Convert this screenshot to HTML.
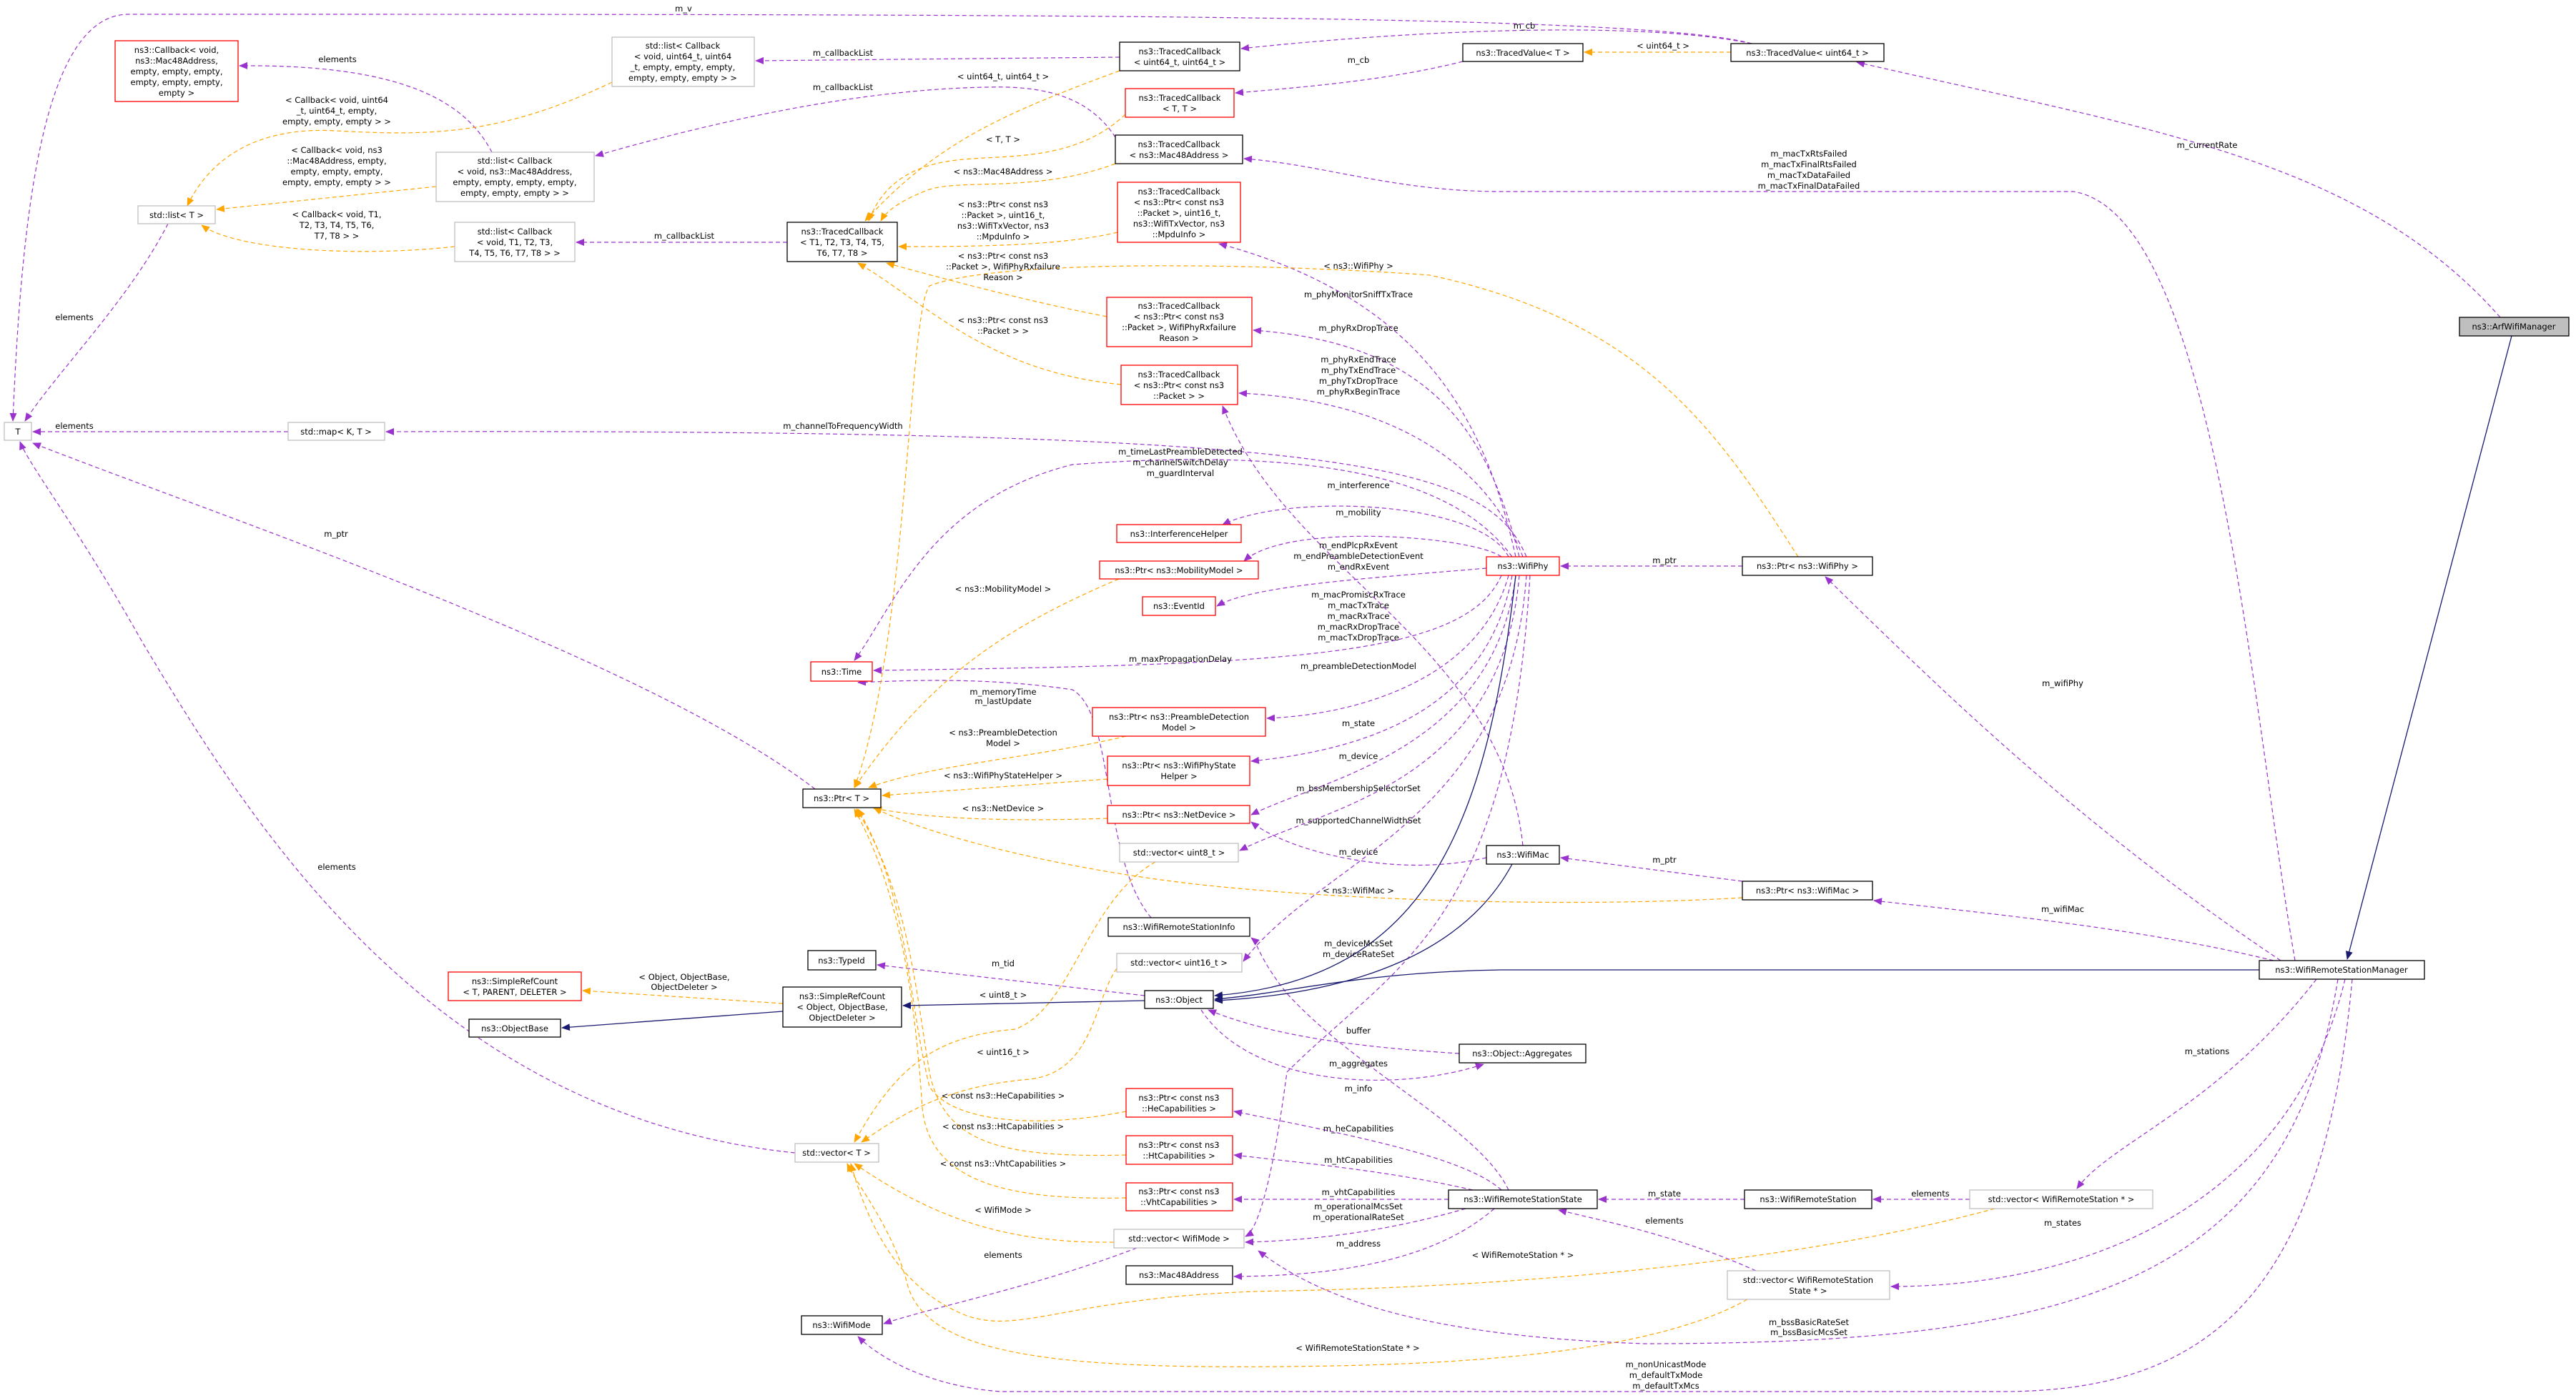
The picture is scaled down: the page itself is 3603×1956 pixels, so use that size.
<!DOCTYPE html>
<html><head><meta charset="utf-8"><style>
html,body{margin:0;padding:0;background:#fff;}
svg{display:block;}
text{font-family:"DejaVu Sans","Liberation Sans",sans-serif;font-size:11.5px;fill:#000;}
.p{fill:none;stroke:#9a32cd;stroke-width:1.2;stroke-dasharray:6,4;}
.o{fill:none;stroke:#ffa500;stroke-width:1.2;stroke-dasharray:6,4;}
.n{fill:none;stroke:#191970;stroke-width:1.3;}
.bk{fill:#fff;stroke:#000;stroke-width:1.3;}
.rd{fill:#fff;stroke:#ff0000;stroke-width:1.3;}
.gy{fill:#fff;stroke:#bfbfbf;stroke-width:1.3;}
</style></head><body>
<svg width="3603" height="1956" viewBox="0 0 3603 1956" xmlns="http://www.w3.org/2000/svg">
<defs>
<marker id="mp" markerWidth="12" markerHeight="10" refX="11" refY="5" orient="auto" markerUnits="userSpaceOnUse"><path d="M0,0 L12,5 L0,10 z" fill="#9a32cd"/></marker>
<marker id="mo" markerWidth="12" markerHeight="10" refX="11" refY="5" orient="auto" markerUnits="userSpaceOnUse"><path d="M0,0 L12,5 L0,10 z" fill="#ffa500"/></marker>
<marker id="mn" markerWidth="12" markerHeight="10" refX="11" refY="5" orient="auto" markerUnits="userSpaceOnUse"><path d="M0,0 L12,5 L0,10 z" fill="#191970"/></marker>
</defs>

<g marker-end="url(#mp)">
<path class="p" d="M1140,1104 C900,920 300,720 46,620"/>
<path class="p" d="M235,313 C180,420 80,520 35,589"/>
<path class="p" d="M403,604 L46,604"/>
<path class="p" d="M1112,1613 C600,1560 350,1150 200,900 C110,740 40,650 28,618"/>
<path class="p" d="M2450,61 C2300,20 1500,20 180,20 C60,20 30,300 18,589"/>
<path class="p" d="M688,213 C650,140 560,90 335,92"/>
<path class="p" d="M1566,80 L1057,85"/>
<path class="p" d="M1560,192 C1520,130 1450,120 1380,122 C1200,125 1000,170 833,218"/>
<path class="p" d="M1101,339 L806,339"/>
<path class="p" d="M2450,61 C2300,30 2000,40 1736,68"/>
<path class="p" d="M2046,86 C1950,110 1850,120 1728,130"/>
<path class="p" d="M3497,444 C3300,220 3000,180 2597,87"/>
<path class="p" d="M3210,1344 C3150,1000 3100,300 2900,268 L2100,268 C1950,268 1850,230 1740,222"/>
<path class="p" d="M1601,1393 L1227,1350"/>
<path class="p" d="M2041,1474 C1900,1465 1780,1450 1690,1413"/>
<path class="p" d="M1680,1413 C1750,1520 1950,1530 2075,1489"/>
<path class="p" d="M2437,792 L2183,792"/>
<path class="p" d="M3190,1344 C2900,1150 2700,950 2553,807"/>
<path class="p" d="M2437,1233 L2183,1200"/>
<path class="p" d="M3180,1344 C3000,1300 2800,1280 2621,1260"/>
<path class="p" d="M2120,779 C2080,600 2000,420 1705,341"/>
<path class="p" d="M2125,779 C2080,600 2000,480 1753,462"/>
<path class="p" d="M2130,779 C2080,650 1950,560 1733,550"/>
<path class="p" d="M2135,779 C2080,650 1900,600 540,604"/>
<path class="p" d="M2115,779 C2050,690 1900,620 1500,650 C1300,700 1250,850 1195,924"/>
<path class="p" d="M2110,779 C2070,700 1800,690 1710,734"/>
<path class="p" d="M2100,779 C2060,750 1800,730 1740,785"/>
<path class="p" d="M2079,795 C1900,810 1750,820 1702,848"/>
<path class="p" d="M2100,805 C2050,920 1800,930 1222,938"/>
<path class="p" d="M2110,805 C2070,950 1900,1000 1772,1005"/>
<path class="p" d="M2115,805 C2080,1000 1900,1050 1750,1065"/>
<path class="p" d="M2120,805 C2090,1050 1850,1090 1750,1140"/>
<path class="p" d="M2125,805 C2100,1100 1850,1130 1734,1190"/>
<path class="p" d="M2135,805 C2110,1150 1850,1200 1739,1345"/>
<path class="p" d="M2140,805 C2110,1300 1950,1350 1800,1500 C1780,1650 1760,1720 1742,1730"/>
<path class="p" d="M2130,1183 C2100,900 1800,800 1710,568"/>
<path class="p" d="M2079,1200 C1950,1230 1800,1190 1750,1150"/>
<path class="p" d="M1610,1284 C1540,1200 1560,1000 1500,965 C1400,950 1300,950 1200,955"/>
<path class="p" d="M2110,1665 C2070,1580 1900,1500 1800,1390 C1760,1340 1760,1320 1750,1312"/>
<path class="p" d="M2100,1665 C2050,1620 1900,1590 1726,1555"/>
<path class="p" d="M2060,1665 C1950,1640 1850,1630 1726,1616"/>
<path class="p" d="M2026,1678 L1726,1678"/>
<path class="p" d="M2050,1691 C1950,1720 1850,1735 1742,1738"/>
<path class="p" d="M2090,1691 C2000,1770 1850,1785 1726,1786"/>
<path class="p" d="M1590,1746 C1450,1800 1300,1830 1236,1852"/>
<path class="p" d="M2440,1678 L2236,1678"/>
<path class="p" d="M2755,1678 L2620,1678"/>
<path class="p" d="M2456,1778 C2350,1730 2250,1710 2180,1693"/>
<path class="p" d="M3240,1370 C3100,1550 2950,1600 2905,1663"/>
<path class="p" d="M3280,1370 C3200,1700 2900,1800 2645,1800"/>
<path class="p" d="M3270,1370 C3200,1800 2900,1880 2300,1880 C2000,1870 1850,1820 1760,1750"/>
<path class="p" d="M3290,1370 C3250,1800 3100,1947 2800,1947 L1400,1947 C1300,1940 1230,1900 1200,1870"/>
</g>

<g marker-end="url(#mo)">
<path class="o" d="M856,115 C700,190 600,190 470,183 C330,175 280,250 262,288"/>
<path class="o" d="M610,261 L303,293"/>
<path class="o" d="M636,345 C500,360 330,350 282,315"/>
<path class="o" d="M1566,99 C1400,160 1310,200 1210,309"/>
<path class="o" d="M1574,160 C1500,230 1400,215 1330,225 C1260,235 1230,270 1215,309"/>
<path class="o" d="M1560,229 C1450,270 1350,250 1300,265 C1260,280 1240,295 1232,309"/>
<path class="o" d="M1563,325 C1480,345 1350,345 1257,345"/>
<path class="o" d="M1548,443 C1430,420 1320,390 1240,368"/>
<path class="o" d="M1568,538 C1380,520 1290,420 1200,368"/>
<path class="o" d="M2421,73 L2216,73"/>
<path class="o" d="M2515,779 C2400,600 2300,450 2000,385 C1800,370 1400,360 1300,400 C1270,440 1270,900 1195,1102"/>
<path class="o" d="M2437,1256 C2200,1270 1900,1260 1700,1240 C1500,1220 1300,1170 1222,1130"/>
<path class="o" d="M1565,810 C1400,880 1300,950 1195,1102"/>
<path class="o" d="M1575,1030 C1450,1060 1300,1070 1215,1102"/>
<path class="o" d="M1549,1090 L1234,1113"/>
<path class="o" d="M1549,1145 C1400,1150 1300,1145 1222,1131"/>
<path class="o" d="M1616,1206 C1520,1260 1500,1410 1420,1440 C1300,1450 1250,1500 1195,1598"/>
<path class="o" d="M1562,1355 C1530,1400 1530,1500 1440,1510 C1320,1520 1260,1560 1205,1598"/>
<path class="o" d="M1558,1738 C1400,1740 1300,1700 1195,1628"/>
<path class="o" d="M2790,1691 C2500,1770 2100,1800 1800,1806 C1500,1810 1430,1870 1350,1840 C1250,1800 1210,1700 1190,1628"/>
<path class="o" d="M2444,1818 C2300,1900 2000,1910 1800,1912 C1500,1915 1300,1900 1270,1800 C1250,1720 1200,1660 1185,1628"/>
<path class="o" d="M1575,1555 C1450,1580 1330,1570 1300,1520 C1270,1400 1270,1250 1200,1132"/>
<path class="o" d="M1575,1616 C1400,1620 1320,1600 1300,1500 C1280,1380 1270,1250 1198,1132"/>
<path class="o" d="M1575,1676 C1400,1680 1300,1650 1290,1550 C1280,1400 1260,1250 1195,1132"/>
<path class="o" d="M1095,1404 L815,1386"/>
</g>

<g marker-end="url(#mn)">
<path class="n" d="M3513,470 L3283,1342"/>
<path class="n" d="M3160,1357 L2100,1357 C1900,1360 1800,1390 1699,1398"/>
<path class="n" d="M2120,805 C2080,1150 2000,1370 1699,1393"/>
<path class="n" d="M2115,1209 C2050,1330 1900,1390 1699,1400"/>
<path class="n" d="M1601,1400 L1263,1407"/>
<path class="n" d="M1095,1415 L786,1438"/>
</g>

<g text-anchor="middle">
<rect class="rd" x="161" y="57" width="172" height="85"/>
<text x="247" y="74">ns3::Callback&lt; void,</text><text x="247" y="89">ns3::Mac48Address,</text><text x="247" y="104">empty, empty, empty,</text><text x="247" y="119">empty, empty, empty,</text><text x="247" y="134">empty &gt;</text>
<rect class="gy" x="856" y="52" width="199" height="69"/>
<text x="955" y="68">std::list&lt; Callback</text><text x="955" y="83">&lt; void, uint64_t, uint64</text><text x="955" y="98">_t, empty, empty, empty,</text><text x="955" y="113">empty, empty, empty &gt; &gt;</text>
<rect class="bk" x="1566" y="59" width="168" height="40"/>
<text x="1650" y="76">ns3::TracedCallback</text><text x="1650" y="91">&lt; uint64_t, uint64_t &gt;</text>
<rect class="rd" x="1574" y="124" width="152" height="40"/>
<text x="1650" y="141">ns3::TracedCallback</text><text x="1650" y="156">&lt; T, T &gt;</text>
<rect class="bk" x="1560" y="189" width="178" height="40"/>
<text x="1649" y="206">ns3::TracedCallback</text><text x="1649" y="221">&lt; ns3::Mac48Address &gt;</text>
<rect class="rd" x="1563" y="255" width="172" height="84"/>
<text x="1649" y="272">ns3::TracedCallback</text><text x="1649" y="287">&lt; ns3::Ptr&lt; const ns3</text><text x="1649" y="302">::Packet &gt;, uint16_t,</text><text x="1649" y="317">ns3::WifiTxVector, ns3</text><text x="1649" y="332">::MpduInfo &gt;</text>
<rect class="bk" x="1101" y="311" width="154" height="55"/>
<text x="1178" y="328">ns3::TracedCallback</text><text x="1178" y="343">&lt; T1, T2, T3, T4, T5,</text><text x="1178" y="358">T6, T7, T8 &gt;</text>
<rect class="gy" x="610" y="213" width="221" height="69"/>
<text x="720" y="229">std::list&lt; Callback</text><text x="720" y="244">&lt; void, ns3::Mac48Address,</text><text x="720" y="259">empty, empty, empty, empty,</text><text x="720" y="274">empty, empty, empty &gt; &gt;</text>
<rect class="gy" x="193" y="288" width="108" height="25"/>
<text x="247" y="305">std::list&lt; T &gt;</text>
<rect class="gy" x="636" y="311" width="168" height="55"/>
<text x="720" y="328">std::list&lt; Callback</text><text x="720" y="343">&lt; void, T1, T2, T3,</text><text x="720" y="358">T4, T5, T6, T7, T8 &gt; &gt;</text>
<rect class="rd" x="1548" y="416" width="203" height="69"/>
<text x="1649" y="432">ns3::TracedCallback</text><text x="1649" y="447">&lt; ns3::Ptr&lt; const ns3</text><text x="1649" y="462">::Packet &gt;, WifiPhyRxfailure</text><text x="1649" y="477">Reason &gt;</text>
<rect class="rd" x="1568" y="511" width="163" height="55"/>
<text x="1649" y="528">ns3::TracedCallback</text><text x="1649" y="543">&lt; ns3::Ptr&lt; const ns3</text><text x="1649" y="558">::Packet &gt; &gt;</text>
<rect class="gy" x="6" y="591" width="38" height="25"/><text x="25" y="608">T</text>
<rect class="gy" x="403" y="591" width="135" height="25"/><text x="470" y="608">std::map&lt; K, T &gt;</text>
<rect class="rd" x="1562" y="734" width="174" height="25"/><text x="1649" y="751">ns3::InterferenceHelper</text>
<rect class="rd" x="1538" y="785" width="222" height="25"/><text x="1649" y="802">ns3::Ptr&lt; ns3::MobilityModel &gt;</text>
<rect class="rd" x="1598" y="835" width="102" height="26"/><text x="1649" y="852">ns3::EventId</text>
<rect class="rd" x="1134" y="926" width="86" height="27"/><text x="1177" y="944">ns3::Time</text>
<rect class="bk" x="2046" y="61" width="168" height="25"/><text x="2130" y="78">ns3::TracedValue&lt; T &gt;</text>
<rect class="bk" x="2421" y="61" width="214" height="25"/><text x="2528" y="78">ns3::TracedValue&lt; uint64_t &gt;</text>
<rect x="3440" y="444" width="153" height="26" fill="#bfbfbf" stroke="#000" stroke-width="1.3"/><text x="3516" y="461">ns3::ArfWifiManager</text>
<rect class="rd" x="2079" y="779" width="102" height="26"/><text x="2130" y="796">ns3::WifiPhy</text>
<rect class="bk" x="2437" y="779" width="182" height="26"/><text x="2528" y="796">ns3::Ptr&lt; ns3::WifiPhy &gt;</text>
<rect class="rd" x="1528" y="990" width="242" height="40"/>
<text x="1649" y="1007">ns3::Ptr&lt; ns3::PreambleDetection</text><text x="1649" y="1022">Model &gt;</text>
<rect class="bk" x="1123" y="1104" width="109" height="26"/><text x="1177" y="1121">ns3::Ptr&lt; T &gt;</text>
<rect class="rd" x="1549" y="1058" width="199" height="41"/>
<text x="1649" y="1075">ns3::Ptr&lt; ns3::WifiPhyState</text><text x="1649" y="1090">Helper &gt;</text>
<rect class="rd" x="1549" y="1127" width="199" height="25"/><text x="1649" y="1144">ns3::Ptr&lt; ns3::NetDevice &gt;</text>
<rect class="gy" x="1566" y="1180" width="166" height="26"/><text x="1649" y="1197">std::vector&lt; uint8_t &gt;</text>
<rect class="bk" x="1550" y="1284" width="198" height="26"/><text x="1649" y="1301">ns3::WifiRemoteStationInfo</text>
<rect class="bk" x="1130" y="1330" width="95" height="27"/><text x="1177" y="1348">ns3::TypeId</text>
<rect class="gy" x="1562" y="1334" width="175" height="26"/><text x="1649" y="1351">std::vector&lt; uint16_t &gt;</text>
<rect class="rd" x="627" y="1360" width="186" height="40"/>
<text x="720" y="1377">ns3::SimpleRefCount</text><text x="720" y="1392">&lt; T, PARENT, DELETER &gt;</text>
<rect class="bk" x="1095" y="1381" width="166" height="56"/>
<text x="1178" y="1398">ns3::SimpleRefCount</text><text x="1178" y="1413">&lt; Object, ObjectBase,</text><text x="1178" y="1428">ObjectDeleter &gt;</text>
<rect class="bk" x="1601" y="1386" width="96" height="25"/><text x="1649" y="1403">ns3::Object</text>
<rect class="bk" x="656" y="1426" width="128" height="25"/><text x="720" y="1443">ns3::ObjectBase</text>
<rect class="rd" x="1575" y="1523" width="149" height="40"/>
<text x="1649" y="1540">ns3::Ptr&lt; const ns3</text><text x="1649" y="1555">::HeCapabilities &gt;</text>
<rect class="rd" x="1575" y="1589" width="149" height="40"/>
<text x="1649" y="1606">ns3::Ptr&lt; const ns3</text><text x="1649" y="1621">::HtCapabilities &gt;</text>
<rect class="rd" x="1575" y="1655" width="149" height="39"/>
<text x="1649" y="1671">ns3::Ptr&lt; const ns3</text><text x="1649" y="1686">::VhtCapabilities &gt;</text>
<rect class="gy" x="1112" y="1600" width="117" height="26"/><text x="1170" y="1617">std::vector&lt; T &gt;</text>
<rect class="gy" x="1558" y="1720" width="182" height="26"/><text x="1649" y="1737">std::vector&lt; WifiMode &gt;</text>
<rect class="bk" x="1575" y="1771" width="149" height="26"/><text x="1649" y="1788">ns3::Mac48Address</text>
<rect class="bk" x="1121" y="1841" width="113" height="26"/><text x="1177" y="1858">ns3::WifiMode</text>
<rect class="bk" x="2079" y="1183" width="102" height="26"/><text x="2130" y="1200">ns3::WifiMac</text>
<rect class="bk" x="2437" y="1233" width="182" height="26"/><text x="2528" y="1250">ns3::Ptr&lt; ns3::WifiMac &gt;</text>
<rect class="bk" x="3160" y="1344" width="231" height="26"/><text x="3275" y="1361">ns3::WifiRemoteStationManager</text>
<rect class="bk" x="2041" y="1461" width="177" height="26"/><text x="2129" y="1478">ns3::Object::Aggregates</text>
<rect class="bk" x="2026" y="1665" width="208" height="26"/><text x="2130" y="1682">ns3::WifiRemoteStationState</text>
<rect class="bk" x="2440" y="1665" width="178" height="26"/><text x="2529" y="1682">ns3::WifiRemoteStation</text>
<rect class="gy" x="2755" y="1665" width="256" height="26"/><text x="2883" y="1682">std::vector&lt; WifiRemoteStation * &gt;</text>
<rect class="gy" x="2416" y="1778" width="227" height="40"/>
<text x="2529" y="1795">std::vector&lt; WifiRemoteStation</text><text x="2529" y="1810">State * &gt;</text>
</g>

<g text-anchor="middle">
<text x="956" y="16">m_v</text>
<text x="472" y="87">elements</text>
<text x="471" y="144">&lt; Callback&lt; void, uint64</text><text x="471" y="159">_t, uint64_t, empty,</text><text x="471" y="174">empty, empty, empty &gt; &gt;</text>
<text x="471" y="214">&lt; Callback&lt; void, ns3</text><text x="471" y="229">::Mac48Address, empty,</text><text x="471" y="244">empty, empty, empty,</text><text x="471" y="259">empty, empty, empty &gt; &gt;</text>
<text x="471" y="304">&lt; Callback&lt; void, T1,</text><text x="471" y="319">T2, T3, T4, T5, T6,</text><text x="471" y="334">T7, T8 &gt; &gt;</text>
<text x="104" y="448">elements</text>
<text x="104" y="600">elements</text>
<text x="470" y="751">m_ptr</text>
<text x="471" y="1217">elements</text>
<text x="1179" y="78">m_callbackList</text>
<text x="1179" y="126">m_callbackList</text>
<text x="957" y="334">m_callbackList</text>
<text x="1403" y="111">&lt; uint64_t, uint64_t &gt;</text>
<text x="1403" y="199">&lt; T, T &gt;</text>
<text x="1403" y="244">&lt; ns3::Mac48Address &gt;</text>
<text x="1403" y="290">&lt; ns3::Ptr&lt; const ns3</text><text x="1403" y="305">::Packet &gt;, uint16_t,</text><text x="1403" y="320">ns3::WifiTxVector, ns3</text><text x="1403" y="335">::MpduInfo &gt;</text>
<text x="1403" y="362">&lt; ns3::Ptr&lt; const ns3</text><text x="1403" y="377">::Packet &gt;, WifiPhyRxfailure</text><text x="1403" y="392">Reason &gt;</text>
<text x="1403" y="452">&lt; ns3::Ptr&lt; const ns3</text><text x="1403" y="467">::Packet &gt; &gt;</text>
<text x="1179" y="600">m_channelToFrequencyWidth</text>
<text x="1651" y="636">m_timeLastPreambleDetected</text><text x="1651" y="651">m_channelSwitchDelay</text><text x="1651" y="666">m_guardInterval</text>
<text x="1403" y="828">&lt; ns3::MobilityModel &gt;</text>
<text x="1651" y="926">m_maxPropagationDelay</text>
<text x="1403" y="972">m_memoryTime</text><text x="1403" y="985">m_lastUpdate</text>
<text x="1403" y="1029">&lt; ns3::PreambleDetection</text><text x="1403" y="1044">Model &gt;</text>
<text x="1403" y="1089">&lt; ns3::WifiPhyStateHelper &gt;</text>
<text x="1403" y="1135">&lt; ns3::NetDevice &gt;</text>
<text x="1403" y="1352">m_tid</text>
<text x="957" y="1371">&lt; Object, ObjectBase,</text><text x="957" y="1385">ObjectDeleter &gt;</text>
<text x="1403" y="1396">&lt; uint8_t &gt;</text>
<text x="1403" y="1476">&lt; uint16_t &gt;</text>
<text x="1403" y="1537">&lt; const ns3::HeCapabilities &gt;</text>
<text x="1403" y="1580">&lt; const ns3::HtCapabilities &gt;</text>
<text x="1403" y="1632">&lt; const ns3::VhtCapabilities &gt;</text>
<text x="1403" y="1697">&lt; WifiMode &gt;</text>
<text x="1403" y="1760">elements</text>
<text x="2132" y="40">m_cb</text>
<text x="1900" y="88">m_cb</text>
<text x="2326" y="68">&lt; uint64_t &gt;</text>
<text x="3087" y="207">m_currentRate</text>
<text x="2530" y="219">m_macTxRtsFailed</text><text x="2530" y="234">m_macTxFinalRtsFailed</text><text x="2530" y="249">m_macTxDataFailed</text><text x="2530" y="264">m_macTxFinalDataFailed</text>
<text x="1900" y="376">&lt; ns3::WifiPhy &gt;</text>
<text x="1900" y="416">m_phyMonitorSniffTxTrace</text>
<text x="1900" y="463">m_phyRxDropTrace</text>
<text x="1900" y="507">m_phyRxEndTrace</text><text x="1900" y="522">m_phyTxEndTrace</text><text x="1900" y="537">m_phyTxDropTrace</text><text x="1900" y="552">m_phyRxBeginTrace</text>
<text x="1900" y="683">m_interference</text>
<text x="1900" y="721">m_mobility</text>
<text x="1900" y="767">m_endPlcpRxEvent</text><text x="1900" y="782">m_endPreambleDetectionEvent</text><text x="1900" y="797">m_endRxEvent</text>
<text x="2328" y="788">m_ptr</text>
<text x="1900" y="836">m_macPromiscRxTrace</text><text x="1900" y="851">m_macTxTrace</text><text x="1900" y="866">m_macRxTrace</text><text x="1900" y="881">m_macRxDropTrace</text><text x="1900" y="896">m_macTxDropTrace</text>
<text x="1900" y="936">m_preambleDetectionModel</text>
<text x="2885" y="960">m_wifiPhy</text>
<text x="1900" y="1016">m_state</text>
<text x="1900" y="1062">m_device</text>
<text x="1900" y="1107">m_bssMembershipSelectorSet</text>
<text x="1900" y="1152">m_supportedChannelWidthSet</text>
<text x="1900" y="1196">m_device</text>
<text x="2328" y="1207">m_ptr</text>
<text x="1900" y="1250">&lt; ns3::WifiMac &gt;</text>
<text x="2885" y="1276">m_wifiMac</text>
<text x="1900" y="1324">m_deviceMcsSet</text><text x="1900" y="1339">m_deviceRateSet</text>
<text x="1900" y="1446">buffer</text>
<text x="1900" y="1492">m_aggregates</text>
<text x="3087" y="1475">m_stations</text>
<text x="1900" y="1527">m_info</text>
<text x="1900" y="1583">m_heCapabilities</text>
<text x="1900" y="1627">m_htCapabilities</text>
<text x="1900" y="1672">m_vhtCapabilities</text>
<text x="1900" y="1692">m_operationalMcsSet</text><text x="1900" y="1707">m_operationalRateSet</text>
<text x="1900" y="1744">m_address</text>
<text x="2328" y="1674">m_state</text>
<text x="2700" y="1674">elements</text>
<text x="2328" y="1712">elements</text>
<text x="2885" y="1715">m_states</text>
<text x="2130" y="1760">&lt; WifiRemoteStation * &gt;</text>
<text x="2530" y="1854">m_bssBasicRateSet</text><text x="2530" y="1868">m_bssBasicMcsSet</text>
<text x="1899" y="1890">&lt; WifiRemoteStationState * &gt;</text>
<text x="2330" y="1913">m_nonUnicastMode</text><text x="2330" y="1928">m_defaultTxMode</text><text x="2330" y="1943">m_defaultTxMcs</text>
</g>
</svg>
</body></html>
